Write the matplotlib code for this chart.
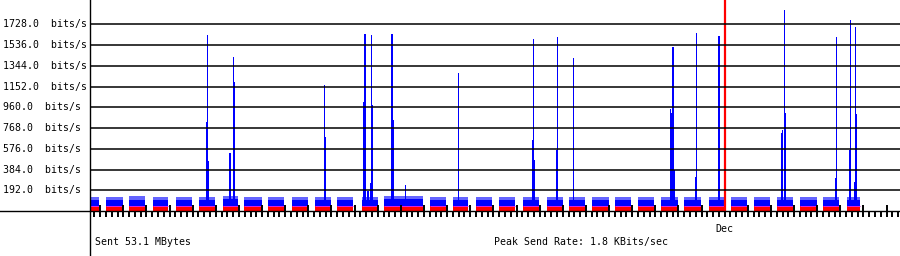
import matplotlib
matplotlib.use("Agg")
import matplotlib.pyplot as plt
from matplotlib.lines import Line2D
from matplotlib.transforms import blended_transform_factory

# ---- data (time in days, 0 = Nov 5 00:00, Dec 1 = day 26) ----
block_start = [-1.44, -0.76, 0.26, 1.27, 2.27, 3.27, 4.31, 5.23, 6.24, 7.31, 8.29,
               9.25, 10.32, 11.27, 13.26, 14.24, 15.24, 16.24, 17.27, 18.30, 19.26,
               20.28, 21.26, 22.24, 23.25, 24.25, 25.34, 26.27, 27.27, 28.25, 29.26,
               30.24, 31.27]
block_end = [-1.04, 0.00, 0.94, 1.95, 2.96, 3.96, 4.97, 5.98, 6.95, 8.00, 8.98,
             9.94, 11.00, 12.94, 13.95, 14.92, 15.93, 16.93, 17.99, 18.99, 19.96,
             21.00, 21.95, 22.96, 23.97, 24.96, 25.98, 26.95, 27.96, 28.97, 30.00,
             30.96, 31.84]
red_level = [46, 46, 46, 46, 46, 46, 46, 46, 46, 46, 46,
             46, 46, 46, 46, 46, 46, 46, 46, 46, 46,
             46, 46, 46, 46, 46, 46, 46, 46, 46, 46,
             46, 46]
avg_level = [104, 106, 106, 104, 106, 106, 108, 104, 106, 104, 106,
             106, 106, 108, 104, 106, 104, 104, 106, 104, 106,
             104, 106, 106, 106, 104, 100, 104, 104, 106, 104,
             106, 106]
max_level = [132, 134, 136, 130, 132, 134, 136, 134, 134, 130, 132,
             132, 134, 136, 130, 132, 130, 130, 134, 132, 132,
             130, 134, 134, 132, 130, 126, 130, 132, 134, 132,
             132, 134]

spike_day = [3.61, 3.65, 3.684, 4.613, 4.756, 4.80, 8.69, 8.73,
             10.40, 10.45, 10.58, 10.70, 10.74, 10.78, 11.62, 11.66, 12.20,
             14.49, 17.685, 17.73, 17.76, 18.72, 18.76, 19.46,
             23.65, 23.69, 23.76, 23.82, 24.75, 24.79, 25.72, 25.76,
             28.45, 28.51, 28.58, 28.62, 30.78, 30.83,
             31.40, 31.43, 31.61, 31.65, 31.69]
spike_val = [823, 1630, 465, 534, 1423, 1197, 1166, 688,
             1010, 1636, 188, 259, 1627, 980, 1636, 840, 237,
             1275, 656, 1590, 471, 560, 1608, 1414,
             943, 903, 1521, 379, 318, 1645, 1111, 1620,
             720, 750, 1858, 906, 303, 1608,
             565, 1768, 271, 1700, 898]

ytick_vals = [192, 384, 576, 768, 960, 1152, 1344, 1536, 1728]
ytick_labels = ["192.0  bits/s", "384.0  bits/s", "576.0  bits/s", "768.0  bits/s",
                "960.0  bits/s", "1152.0  bits/s", "1344.0  bits/s", "1536.0  bits/s",
                "1728.0  bits/s"]
month_day = 26
month_label = "Dec"
sent_text = "Sent 53.1 MBytes"
peak_text = "Peak Send Rate: 1.8 KBits/sec"

# ---- figure ----
W, H = 900, 256
fig = plt.figure(figsize=(W / 100, H / 100), dpi=100)
fig.patch.set_facecolor("white")
ax = fig.add_axes([90 / W, 45 / H, 810 / W, 211 / H])
ax.set_xlim(-1.44, 33.58)
ax.set_ylim(0, 1953)
for s in ax.spines.values():
    s.set_visible(False)
ax.set_facecolor("white")

LIGHT = "#6464ff"
BLUE = "#0000ff"
RED = "#ff0000"

widths = [e - s for s, e in zip(block_start, block_end)]
ax.bar(block_start, max_level, width=widths, align="edge", color=LIGHT, linewidth=0, zorder=1)
ax.bar(block_start, avg_level, width=widths, align="edge", color=BLUE, linewidth=0, zorder=1.1)
ax.bar(spike_day, spike_val, width=0.055, align="center", color=BLUE, linewidth=0, zorder=1.2)
ax.bar(block_start, red_level, width=widths, align="edge", color=RED, linewidth=0, zorder=1.3)
ax.hlines(red_level, block_start, block_end, color="#e020e0", linewidth=0.7, zorder=1.35)

# grid lines
for v in ytick_vals:
    ax.axhline(v, color="black", linewidth=1.1, zorder=3)

# month marker
ax.axvline(month_day, color=RED, linewidth=1.6, zorder=2.8)

# ticks
ax.set_axisbelow(False)
ax.set_xticks(list(range(-1, 34)))
ax.set_xticks([d / 4 for d in range(-5, 135) if d % 4 != 0], minor=True)
ax.tick_params(axis="x", which="major", direction="inout", length=8, width=1.4,
               color="black", labelbottom=False)
ax.tick_params(axis="x", which="minor", direction="out", length=4.3, width=1.4,
               color="black")
ax.set_yticks([])

FONT = dict(family="DejaVu Sans Mono", fontsize=7.1, color="black")

trans_y = blended_transform_factory(fig.transFigure, ax.transData)
for v, lab in zip(ytick_vals, ytick_labels):
    ax.text(3 / W, v, lab, transform=trans_y, ha="left", va="center", **FONT)

trans_x = blended_transform_factory(ax.transData, fig.transFigure)
ax.text(month_day, (H - 231.5) / H, month_label, transform=trans_x,
        ha="center", va="baseline", **FONT)

fig.text(95 / W, (H - 245) / H, sent_text, ha="left", va="baseline", **FONT)
fig.text(494 / W, (H - 245) / H, peak_text, ha="left", va="baseline", **FONT)

# frame lines
fig.add_artist(Line2D([0, 1], [45 / H, 45 / H], transform=fig.transFigure,
                      color="black", linewidth=1.0, zorder=5))
fig.add_artist(Line2D([90 / W, 90 / W], [0, 1], transform=fig.transFigure,
                      color="black", linewidth=1.0, zorder=5))

fig.savefig("out.png", dpi=100)
